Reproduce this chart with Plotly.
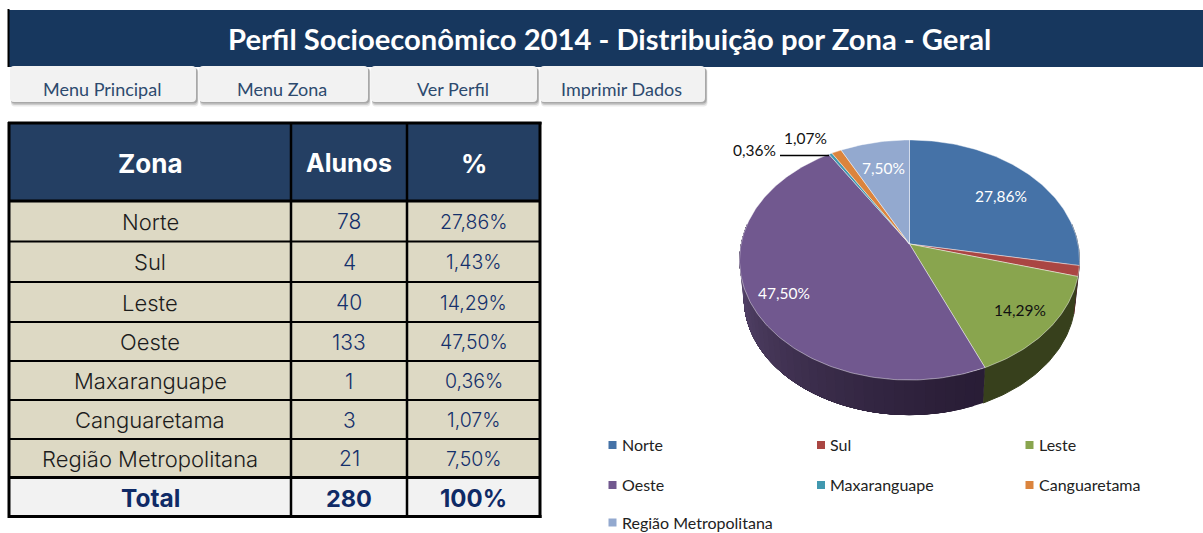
import math
import plotly.graph_objects as go

TITLE = "Perfil Socioeconômico 2014 - Distribuição por Zona - Geral"
BUTTONS = ["Menu Principal", "Menu Zona", "Ver Perfil", "Imprimir Dados"]
HEADERS = ["Zona", "Alunos", "%"]
ZONES = ["Norte", "Sul", "Leste", "Oeste", "Maxaranguape", "Canguaretama", "Região Metropolitana"]
ALUNOS = [78, 4, 40, 133, 1, 3, 21]
PCT_LABELS = ["27,86%", "1,43%", "14,29%", "47,50%", "0,36%", "1,07%", "7,50%"]
TOTAL = ["Total", "280", "100%"]

# Styling / layout only
COLORS = ["#4572a7", "#aa4643", "#89a54e", "#71588f", "#4198af", "#db843d", "#93a9cf"]
WALL = {0: "#2b3d57", 1: "#5a2523", 2: "#37401c"}
NAVY = "#17375e"; HEAD = "#243f63"; TAN = "#ddd9c4"; LIGHT = "#f2f2f2"
TABLE_FONT = "Inter"; CHART_FONT = "Lato"
COL_X = [9, 291, 407, 540]
ROW_Y = [201, 241.5, 282, 322, 361, 400, 439, 477.5, 516.5]
BTN_X = [(10, 197), (199, 369), (371, 538), (540, 706)]
CX, CY, A, R, K = 909.5, 244.0, 117.9, 168.5, 0.1333
DEPTH, SHRINK = 38.5, 0.975
LABEL_XY = [(1001, 196), None, (1020, 310), (784, 293), (754, 150), (805, 138), (883, 168)]
LABEL_COL = ["white", None, "#111111", "white", "#111111", "#111111", "white"]


def top_pt(t):
    x, y = math.sin(t), math.cos(t)
    s = 1 + K * y
    return CX + R * x / s, CY - A * y / s


def low_pt(t):
    x, y = math.sin(t), math.cos(t)
    s = 1 + K * y
    return CX + SHRINK * R * x / s, CY + DEPTH - SHRINK * A * y / s


def arc(fn, a, b, n=None):
    n = n or max(2, int(abs(b - a) * 60))
    return [fn(a + (b - a) * i / n) for i in range(n + 1)]


def mix(c1, c2, f):
    p = [int(c1[i:i + 2], 16) for i in (1, 3, 5)]
    q = [int(c2[i:i + 2], 16) for i in (1, 3, 5)]
    return "#%02x%02x%02x" % tuple(round(u + (v - u) * f) for u, v in zip(p, q))


fig = go.Figure()
shapes, ann = [], []


def rect(x0, y0, x1, y1, fill, layer="below"):
    shapes.append(dict(type="rect", x0=x0, y0=y0, x1=x1, y1=y1, fillcolor=fill,
                       line=dict(width=0), layer=layer))


def vline(x, y0, y1, w=2.5, c="#000000"):
    shapes.append(dict(type="line", x0=x, x1=x, y0=y0, y1=y1, line=dict(color=c, width=w)))


def hline(y, x0, x1, w=2, c="#000000"):
    shapes.append(dict(type="line", x0=x0, x1=x1, y0=y, y1=y, line=dict(color=c, width=w)))


def text(x, y, s, size, color, font=TABLE_FONT, bold=False, anchor="center", weight=None):
    f = dict(family=font, size=size, color=color)
    if weight:
        f["weight"] = weight
    ann.append(dict(x=x, y=y, text=f"<b>{s}</b>" if bold else s, showarrow=False,
                    xanchor=anchor, yanchor="middle", font=f))


# Banner
rect(8, 10, 1203, 67, NAVY)
vline(8.5, 9, 67, 2, "#000000")
text(609, 38.5, TITLE, 29.2, "white", CHART_FONT, True)

# Buttons
def rounded(x0, y0, x1, y1, r):
    return (f"M{x0},{y0} H{x1 - r} Q{x1},{y0} {x1},{y0 + r} V{y1 - r} Q{x1},{y1} {x1 - r},{y1} "
            f"H{x0 + r} Q{x0},{y1} {x0},{y1 - r} V{y0 + r} Q{x0},{y0} {x0 + r},{y0} Z")


for (bx0, bx1), label in zip(BTN_X, BUTTONS):
    for off, op in ((4.5, .12), (3, .2), (1.5, .3)):
        shapes.append(dict(type="path", path=rounded(bx0 + 1, 68, bx1 + off / 3, 102 + off, 4),
                           fillcolor="#555555", opacity=op, line=dict(width=0), layer="above"))
    shapes.append(dict(type="path", path=rounded(bx0, 66, bx1 - 1, 102, 4), fillcolor=LIGHT,
                       line=dict(width=0), layer="above"))
    text((bx0 + bx1) / 2 - 2, 88.5, label, 18, "#2d4a6e", CHART_FONT)

# Table body
rect(COL_X[0], 123, COL_X[3], ROW_Y[0], HEAD)
rect(COL_X[0], ROW_Y[0], COL_X[3], ROW_Y[7], TAN)
rect(COL_X[0], ROW_Y[7], COL_X[3], ROW_Y[8], LIGHT)

centers = [(COL_X[i] + COL_X[i + 1]) / 2 for i in range(3)]
for cx_, h, sz in zip(centers, HEADERS, (26, 25, 26)):
    text(cx_, 163, h, sz, "white", TABLE_FONT, True)
for i, (z, n, p) in enumerate(zip(ZONES, ALUNOS, PCT_LABELS)):
    ym = (ROW_Y[i] + ROW_Y[i + 1]) / 2 + 0.5
    text(centers[0], ym, z, 22, "#1c1c1c", weight=300)
    text(centers[1], ym, str(n), 21, "#14306b", weight=300)
    text(centers[2], ym, p, 19.5, "#14306b", weight=300)
for cx_, t, sz in zip(centers, TOTAL, (24.5, 23.5, 24)):
    text(cx_, (ROW_Y[7] + ROW_Y[8]) / 2 + 1, t, sz, "#0f2a66", TABLE_FONT, True)

for y in ROW_Y[1:7]:
    hline(y, COL_X[0], COL_X[3], 1.8)
hline(ROW_Y[0], COL_X[0], COL_X[3], 3)
hline(ROW_Y[7], COL_X[0], COL_X[3], 3)
hline(123, 8, 541.5, 3)
hline(ROW_Y[8], 8, 541.5, 3)
vline(COL_X[0], 122, 518, 3)
vline(COL_X[3], 122, 518, 3)
vline(COL_X[1], 122, 518, 2.5)
vline(COL_X[2], 122, 518, 2.5)

# Pie: every angle comes from ALUNOS
total = sum(ALUNOS)
cum = [0]
for v in ALUNOS:
    cum.append(cum[-1] + v)
ang = [2 * math.pi * c / total for c in cum]


def poly(pts, fill, line=None, width=0, name=""):
    fig.add_trace(go.Scatter(x=[p[0] for p in pts], y=[p[1] for p in pts], mode="lines", fill="toself",
                             fillcolor=fill, line=dict(color=line or fill, width=width),
                             hoverinfo="skip", showlegend=False, name=name))


W0, W1 = math.radians(80), math.radians(280)
for i in range(4):
    a, b = max(ang[i], W0), min(ang[i + 1], W1)
    if a >= b:
        continue
    if i < 3:
        poly(arc(top_pt, a, b) + arc(low_pt, b, a), WALL[i], width=1)
    else:
        segs = 40
        step = (b - a) / segs
        # each band runs to the far left end and the next paints over it: no seams
        for j in range(segs):
            s0 = a + step * j
            f = j / (segs - 1)
            col = mix("#291d36", "#5f4d76", f ** 1.3)
            poly(arc(top_pt, s0, b, 30) + arc(low_pt, b, s0, 30), col)

for i, c in enumerate(COLORS):
    poly([(CX, CY)] + arc(top_pt, ang[i], ang[i + 1]) + [(CX, CY)], c,
         "rgba(255,255,255,0.55)", 0.8, ZONES[i])

for xy, col, lab in zip(LABEL_XY, LABEL_COL, PCT_LABELS):
    if xy:
        text(xy[0], xy[1], lab, 15.5, col, CHART_FONT)
hline(155.5, 780, 829, 1.3)

# Legend
LEG_X = [609, 817.5, 1026]
LEG_Y = [445, 485, 522.5]
mx, my = [], []
for i, z in enumerate(ZONES):
    lx, ly = LEG_X[i % 3], LEG_Y[i // 3]
    mx.append(lx + 3.5); my.append(ly)
    text(lx + 10.5, ly - 0.5, z, 16, "#222222", CHART_FONT, anchor="left")
fig.add_trace(go.Scatter(x=mx, y=my, mode="markers", hoverinfo="skip", showlegend=False,
                         marker=dict(symbol="square", size=8, color=COLORS, line=dict(width=0))))

fig.update_layout(
    width=1203, height=533, margin=dict(l=0, r=0, t=0, b=0),
    paper_bgcolor="white", plot_bgcolor="white", showlegend=False,
    xaxis=dict(range=[0, 1203], visible=False, fixedrange=True),
    yaxis=dict(range=[533, 0], visible=False, fixedrange=True),
    shapes=shapes, annotations=ann,
)
fig.write_html("out.html", post_script='document.body.style.margin="0";',
               config=dict(displayModeBar=False))
